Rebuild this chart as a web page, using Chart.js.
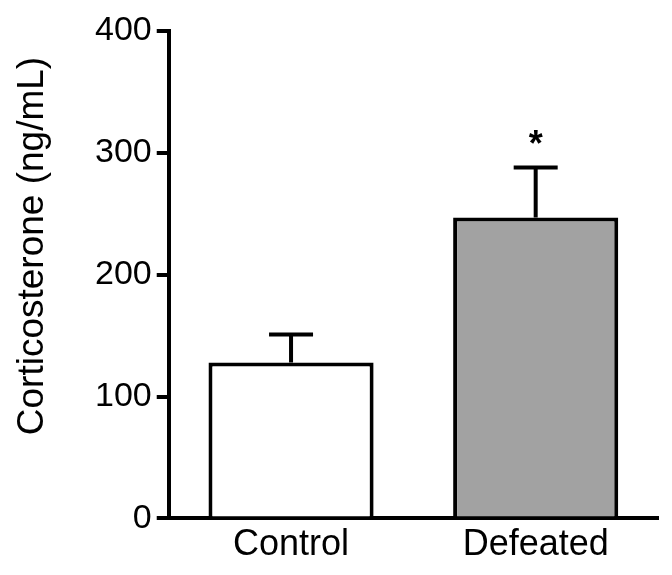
<!DOCTYPE html>
<html>
<head>
<meta charset="utf-8">
<script src="https://cdn.jsdelivr.net/npm/chart.js@4"></script>
<style>
  body { margin: 0; background: #fff; }
  #wrap { width: 672px; height: 575px; }
</style>
</head>
<body>
<div id="wrap"><canvas id="grafico"></canvas></div>
<script>
// dati
const groups = ['Control', 'Defeated'];
const meanCort = [128, 247];
const semCort = [23, 41];
const sigMarks = ['', '*'];
const yTicks = [0, 100, 200, 300, 400];

const yTitle = 'Corticosterone (ng/mL)';
const fontFam = '"Liberation Sans", Arial, Helvetica, sans-serif';

// barre di errore + asterisco
const errorBars = {
  id: 'errorBars',
  afterDatasetsDraw(chart) {
    const ctx = chart.ctx;
    const y = chart.scales.y;
    const meta = chart.getDatasetMeta(0);
    ctx.save();
    ctx.strokeStyle = '#000';
    ctx.lineWidth = 4;
    meta.data.forEach((bar, i) => {
      const top = y.getPixelForValue(meanCort[i] + semCort[i]);
      ctx.beginPath();
      ctx.moveTo(bar.x, bar.y);
      ctx.lineTo(bar.x, top);
      ctx.moveTo(bar.x - 22, top);
      ctx.lineTo(bar.x + 22, top);
      ctx.stroke();
      if (sigMarks[i]) {
        ctx.fillStyle = '#000';
        ctx.font = 'bold 36px ' + fontFam;
        ctx.textAlign = 'center';
        ctx.textBaseline = 'alphabetic';
        ctx.fillText(sigMarks[i], bar.x, top - 11);
      }
    });
    ctx.restore();
  }
};

// titolo asse y
const yTitlePlugin = {
  id: 'yTitlePlugin',
  afterDraw(chart) {
    const ctx = chart.ctx;
    ctx.save();
    ctx.translate(43, 246);
    ctx.rotate(-Math.PI / 2);
    ctx.fillStyle = '#000';
    ctx.font = '37px ' + fontFam;
    ctx.textAlign = 'center';
    ctx.textBaseline = 'alphabetic';
    ctx.fillText(yTitle, 0, 0);
    ctx.restore();
  }
};

new Chart(document.getElementById('grafico'), {
  type: 'bar',
  data: {
    labels: groups,
    datasets: [{
      data: meanCort,
      backgroundColor: ['#ffffff', '#a2a2a2'],
      borderColor: '#000',
      borderWidth: 4,
      borderSkipped: 'start',
      barPercentage: 0.675,
      categoryPercentage: 1
    }]
  },
  options: {
    responsive: true,
    maintainAspectRatio: false,
    animation: false,
    events: [],
    layout: { padding: { left: 90, top: 31, right: 14, bottom: 3 } },
    plugins: { legend: { display: false }, tooltip: { enabled: false } },
    scales: {
      x: {
        grid: { display: false, drawTicks: false },
        border: { color: '#000', width: 4 },
        ticks: { color: '#000', padding: 7, font: { family: fontFam, size: 36, lineHeight: 1.1 } }
      },
      y: {
        min: 0,
        max: 400,
        afterBuildTicks(scale) { scale.ticks = yTicks.map(v => ({ value: v })); },
        grid: { drawOnChartArea: false, drawTicks: true, tickLength: 12, color: '#000', lineWidth: 4 },
        border: { color: '#000', width: 4 },
        ticks: { color: '#000', padding: 5, font: { family: fontFam, size: 34 } }
      }
    }
  },
  plugins: [errorBars, yTitlePlugin]
});
</script>
</body>
</html>
